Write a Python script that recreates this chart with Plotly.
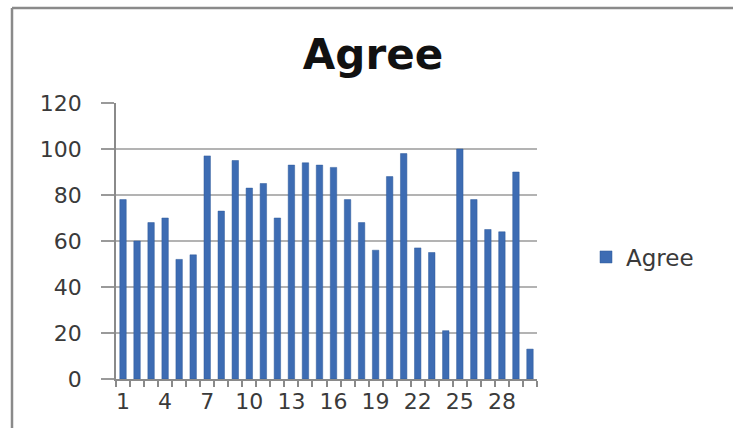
import plotly.graph_objects as go

categories = list(range(1, 31))
agree = [78, 60, 68, 70, 52, 54, 97, 73, 95, 83, 85, 70, 93, 94, 93, 92, 78, 68, 56, 88,
         98, 57, 55, 21, 100, 78, 65, 64, 90, 13]
x_tick_vals = [1, 4, 7, 10, 13, 16, 19, 22, 25, 28]
y_tick_vals = [0, 20, 40, 60, 80, 100, 120]
series_name = "Agree"
chart_title = "Agree"
caption = "Table 7 :"

W, H = 733, 428
L, R, T, B = 116, 196, 103, 49
PW, PH = W - L - R, H - T - B


def px(xpix):
    return (xpix - L) / PW


def py(ypix):
    return 1 - (ypix - T) / PH


fig = go.Figure()
fig.add_trace(go.Bar(
    x=categories, y=agree, name=series_name,
    marker=dict(color="#3d6cb3", line=dict(color="#2f5a9a", width=0.5)),
    width=0.46, showlegend=True,
))

axis_font = dict(family="DejaVu Sans", size=22, color="#3a3a3a")

fig.update_layout(
    width=W, height=H,
    margin=dict(l=L, r=R, t=T, b=B, autoexpand=False),
    paper_bgcolor="white", plot_bgcolor="white",
    showlegend=True,
    title=dict(text="<b>" + chart_title + "</b>", x=px(373), xanchor="center", xref="paper",
               y=1 - 54 / H, yanchor="middle", yref="container",
               font=dict(family="DejaVu Sans", size=42, color="#111111")),
    xaxis=dict(range=[0.5, 30.5], tickvals=x_tick_vals, ticks="", showgrid=False,
               showline=True, linecolor="#8a8a8a", linewidth=1.5,
               tickfont=axis_font, zeroline=False, ticklabelstandoff=2,
               minor=dict(tickvals=[i + 0.5 for i in range(0, 31)], ticks="outside",
                          ticklen=6, tickcolor="#8a8a8a", tickwidth=1.5, showgrid=False)),
    yaxis=dict(range=[0, 120], tickvals=y_tick_vals, ticks="outside", ticklen=13,
               tickcolor="#9a9a9a", tickwidth=1.5, showgrid=True, gridcolor="#b3b3b3",
               gridwidth=1.5, showline=True, linecolor="#8a8a8a", linewidth=1.5,
               tickfont=axis_font, zeroline=False, ticklabelstandoff=15),
    legend=dict(x=px(586), y=py(257), xanchor="left", yanchor="middle",
                font=dict(family="DejaVu Sans", size=23, color="#3a3a3a"),
                bgcolor="rgba(0,0,0,0)"),
    bargap=0.5,
)

# frame lines of the chart area
fig.add_shape(type="line", xref="paper", yref="paper", x0=px(12), x1=px(740),
              y0=py(8), y1=py(8), line=dict(color="#8a8a8a", width=2.5))
fig.add_shape(type="line", xref="paper", yref="paper", x0=px(12), x1=px(12),
              y0=py(8), y1=py(440), line=dict(color="#8a8a8a", width=2.5))

# caption above the chart, cut off by the top edge
fig.add_annotation(text="<b>" + caption + "</b>", xref="paper", yref="paper",
                   x=px(368), y=py(-8), xanchor="center", yanchor="middle",
                   showarrow=False,
                   font=dict(family="Liberation Serif", size=20, color="#111111"))

fig.write_html("out.html", config={"displayModeBar": False},
               post_script="document.body.style.margin='0px';document.body.style.overflow='hidden';")
